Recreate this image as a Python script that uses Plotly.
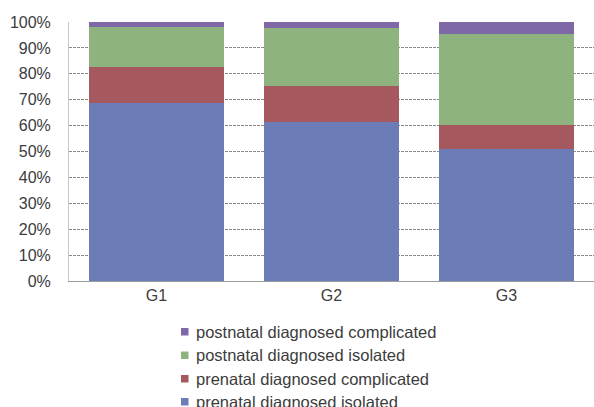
import plotly.graph_objects as go

# Groups and share (%) of each diagnosis class per group
groups = ["G1", "G2", "G3"]
prenatal_isolated = [68.7, 61.4, 50.8]
prenatal_complicated = [13.9, 13.9, 9.3]
postnatal_isolated = [15.5, 22.5, 35.4]
postnatal_complicated = [1.9, 2.2, 4.5]

series_names = [
    "prenatal diagnosed isolated",
    "prenatal diagnosed complicated",
    "postnatal diagnosed isolated",
    "postnatal diagnosed complicated",
]
series_values = [prenatal_isolated, prenatal_complicated, postnatal_isolated, postnatal_complicated]
colors = ["#6b7cb6", "#a6585f", "#8fb37e", "#7e68a8"]

y_ticks = [0, 10, 20, 30, 40, 50, 60, 70, 80, 90, 100]
y_tick_text = [f"{v}%" for v in y_ticks]

W, H = 594, 407
L, R, T, B = 69, 0, 22, 126
TEXT = "#3c3c3c"
FONT = "Liberation Sans, Arial, sans-serif"

fig = go.Figure()
for name, vals, col in zip(series_names, series_values, colors):
    fig.add_trace(go.Bar(x=groups, y=vals, name=name, marker=dict(color=col, line=dict(width=0)),
                         showlegend=False))

# Legend drawn as small squares with labels, newest series on top
plot_w = W - L - R
plot_h = H - T - B
def px_x(px):
    return (px - L) / plot_w
def px_y(py):
    return (H - B - py) / plot_h

legend_rows = [330, 353.5, 377, 400]
for row_y, idx in zip(legend_rows, [3, 2, 1, 0]):
    fig.add_shape(type="rect", xref="paper", yref="paper",
                  x0=px_x(181), x1=px_x(188.5), y0=px_y(row_y + 5.5), y1=px_y(row_y - 2),
                  fillcolor=colors[idx], line=dict(width=0))
    fig.add_annotation(xref="paper", yref="paper", x=px_x(194), y=px_y(row_y + 1.5),
                       xanchor="left", yanchor="middle", showarrow=False,
                       text=series_names[idx], font=dict(size=16.5, color=TEXT, family=FONT))

fig.update_layout(
    width=W, height=H,
    margin=dict(l=L, r=R, t=T, b=B),
    barmode="stack", bargap=0.23,
    plot_bgcolor="white", paper_bgcolor="white",
    font=dict(family=FONT, size=16, color=TEXT),
    xaxis=dict(showline=True, linecolor="#9a9a9a", linewidth=1, ticks="",
               tickfont=dict(size=16, color=TEXT), showgrid=False),
    yaxis=dict(range=[0, 100], tickvals=y_ticks, ticktext=y_tick_text,
               showline=True, linecolor="#c8c8c8", linewidth=1, ticks="",
               ticklabelstandoff=14,
               showgrid=True, gridcolor="#8a8a8a", gridwidth=1, griddash="3px,1px",
               zeroline=False, tickfont=dict(size=16, color=TEXT)),
)

fig.write_html("out.html")
